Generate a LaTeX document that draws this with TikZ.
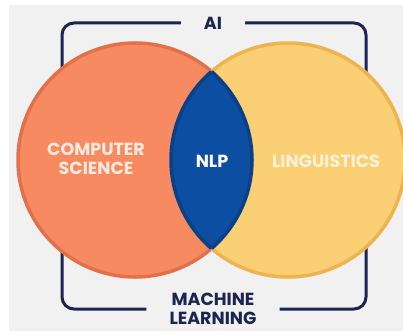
\documentclass[tikz,border=0pt]{standalone}
\usepackage{fontspec}
\setmainfont{Poppins}
\definecolor{bgray}{HTML}{F1F1F1}
\definecolor{csfill}{HTML}{F88A62}
\definecolor{csline}{HTML}{E2704A}
\definecolor{lgfill}{HTML}{FBCF73}
\definecolor{lgline}{HTML}{EDB34F}
\definecolor{nlpfill}{HTML}{0C4EA2}
\definecolor{nlpline}{HTML}{0B3F88}
\definecolor{navy}{HTML}{1C2451}
\definecolor{cstext}{HTML}{FDEBDF}
\definecolor{lgtext}{HTML}{FFF2D8}
\tikzset{
  bracket/.style={draw=navy,line width=3pt,rounded corners=12pt},
  lbl/.style={font=\bfseries\fontsize{17.5}{19}\selectfont,align=center,inner sep=0pt},
  title/.style={lbl,text=navy,inner xsep=23pt}
}
\begin{document}
\begin{tikzpicture}[x=1pt,y=-1pt]
		\def\r{117}
		\useasboundingbox (0,0) rectangle (403,334);
		\fill[bgray] (9,5) rectangle (403,331);
		% outer labels and the bracket behind the circles
		\node[title] (ai) at (213,23) {AI};
		\node[title,font=\bfseries\fontsize{17.5}{19}\selectfont] (ml) at (213,309) {MACHINE\\LEARNING};
		\draw[bracket] (ai.west) -- (62,23) -- (62,309) -- (ml.west);
		\draw[bracket] (ai.east) -- (366,23) -- (366,309) -- (ml.east);
		% circles
		\coordinate (csc) at (135,160);
		\coordinate (lgc) at (288,160);
		\draw[fill=csfill,draw=csline,line width=3.5pt] (csc) circle (\r);
		\draw[fill=lgfill,draw=lgline,line width=3.5pt] (lgc) circle (\r);
		\begin{scope}
		\clip (csc) circle (\r);
		\fill[nlpfill] (lgc) circle (\r);
		\draw[nlpline,line width=3.5pt] (lgc) circle (\r);
		\end{scope}
		\begin{scope}
		\clip (lgc) circle (\r);
		\draw[nlpline,line width=3.5pt] (csc) circle (\r);
		\end{scope}
		% texts
		\node[lbl,text=cstext] (cs) at (96,159) {COMPUTER\\SCIENCE};
		\node[lbl,text=white] (nlp) at (212,161) {NLP};
		\node[lbl,text=lgtext] (lg) at (326,161) {LINGUISTICS};
		\end{tikzpicture}
\end{document}
